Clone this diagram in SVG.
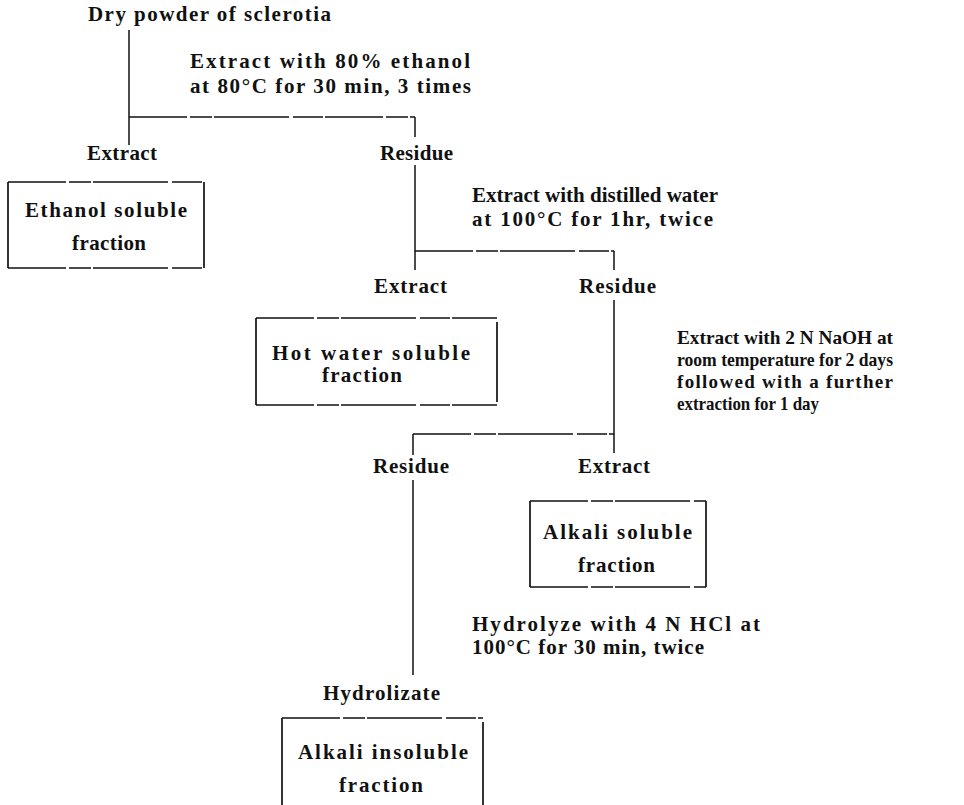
<svg xmlns="http://www.w3.org/2000/svg" width="964" height="805" viewBox="0 0 964 805">
<style>
text{font-family:"Liberation Serif","Times New Roman",serif;font-size:21px;font-weight:bold;fill:#111}
.tight{font-size:19px}
.ln{stroke:#111;stroke-width:1.5;fill:none}
.hz{stroke:#111;stroke-width:1.4;fill:none;stroke-dasharray:58 3 22 2 75 4 30 2}
.sd{stroke:#111;stroke-width:1.7;fill:none}
</style>
<rect width="964" height="805" fill="#fff"/>
<g id="connectors">
<path class="ln" d="M129,30 V145"/>
<path class="hz" d="M129,117 H415"/>
<path class="ln" d="M415,117 V137"/>
<path class="ln" d="M415,165 V270"/>
<path class="hz" d="M415,251 H614"/>
<path class="ln" d="M614,251 V270"/>
<path class="ln" d="M614,300 V453"/>
<path class="hz" d="M413,434 H614"/>
<path class="ln" d="M413,434 V455"/>
<path class="ln" d="M413,480 V675"/>
</g>
<g id="n_dry"><text x="88" y="21" textLength="243" lengthAdjust="spacing">Dry powder of sclerotia</text></g>
<g id="step_ethanol"><text x="190" y="68" textLength="280" lengthAdjust="spacing">Extract with 80% ethanol</text><text x="190" y="93" textLength="281" lengthAdjust="spacing">at 80°C for 30 min, 3 times</text></g>
<g id="n_extract1"><text x="87" y="160" textLength="70" lengthAdjust="spacing">Extract</text></g>
<g id="n_residue1"><text x="380" y="160" textLength="73" lengthAdjust="spacing">Residue</text></g>
<g id="n_ethanol_fraction"><path class="hz" d="M8,182 H204 M8,268 H204"/><path class="sd" d="M8,182 V268 M204,182 V268"/><text x="25" y="217" textLength="162" lengthAdjust="spacing">Ethanol soluble</text><text x="72" y="250" textLength="74" lengthAdjust="spacing">fraction</text></g>
<g id="step_water"><text x="472" y="202" textLength="246" lengthAdjust="spacing">Extract with distilled water</text><text x="472" y="226" textLength="241" lengthAdjust="spacing">at 100°C for 1hr, twice</text></g>
<g id="n_extract2"><text x="374" y="293" textLength="73" lengthAdjust="spacing">Extract</text></g>
<g id="n_residue2"><text x="579" y="293" textLength="77" lengthAdjust="spacing">Residue</text></g>
<g id="n_hotwater_fraction"><path class="hz" d="M256,318 H497 M256,405 H497"/><path class="sd" d="M256,318 V405 M497,322 V402"/><text x="272" y="360" textLength="198" lengthAdjust="spacing">Hot water soluble</text><text x="322" y="382" textLength="80" lengthAdjust="spacing">fraction</text></g>
<g id="step_naoh"><text class="tight" x="677" y="344" textLength="216" lengthAdjust="spacingAndGlyphs">Extract with 2 N NaOH at</text><text class="tight" x="677" y="366" textLength="216" lengthAdjust="spacingAndGlyphs">room temperature for 2 days</text><text class="tight" x="677" y="388" textLength="216" lengthAdjust="spacing">followed with a further</text><text class="tight" x="677" y="410" textLength="142" lengthAdjust="spacingAndGlyphs">extraction for 1 day</text></g>
<g id="n_residue3"><text x="373" y="473" textLength="76" lengthAdjust="spacing">Residue</text></g>
<g id="n_extract3"><text x="578" y="473" textLength="72" lengthAdjust="spacing">Extract</text></g>
<g id="n_alkali_soluble"><path class="hz" d="M530,501 H706 M530,587 H706"/><path class="sd" d="M530,501 V587 M706,501 V587"/><text x="543" y="539" textLength="149" lengthAdjust="spacing">Alkali soluble</text><text x="578" y="572" textLength="77" lengthAdjust="spacing">fraction</text></g>
<g id="step_hcl"><text x="472" y="631" textLength="288" lengthAdjust="spacing">Hydrolyze with 4 N HCl at</text><text x="472" y="654" textLength="232" lengthAdjust="spacing">100°C for 30 min, twice</text></g>
<g id="n_hydrolizate"><text x="323" y="700" textLength="117" lengthAdjust="spacing">Hydrolizate</text></g>
<g id="n_alkali_insoluble"><path class="hz" d="M282,718 H483"/><path class="sd" d="M282,718 V805 M483,722 V805"/><text x="298" y="759" textLength="170" lengthAdjust="spacing">Alkali insoluble</text><text x="339" y="792" textLength="84" lengthAdjust="spacing">fraction</text></g>
</svg>
